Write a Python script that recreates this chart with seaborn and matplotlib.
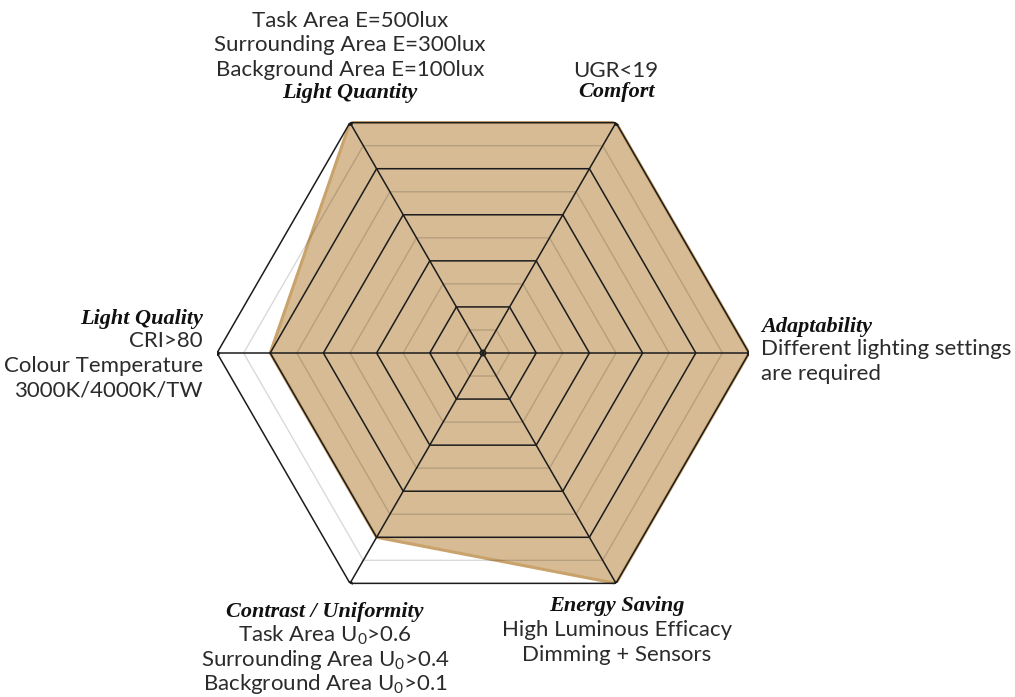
import numpy as np
import pandas as pd
import seaborn as sns
import matplotlib.pyplot as plt

# Lighting design criteria and their scores on a 0-1 scale
categories = ["Light Quantity", "Comfort", "Adaptability",
              "Energy Saving", "Contrast / Uniformity", "Light Quality"]
scores = [1.0, 1.0, 1.0, 1.0, 0.8, 0.8]
descriptions = [
    ["Task Area E=500lux", "Surrounding Area E=300lux", "Background Area E=100lux"],
    ["UGR<19"],
    ["Different lighting settings", "are required"],
    ["High Luminous Efficacy", "Dimming + Sensors"],
    ["Task Area U$_\\mathregular{0}$>0.6", "Surrounding Area U$_\\mathregular{0}$>0.4",
     "Background Area U$_\\mathregular{0}$>0.1"],
    ["CRI>80", "Colour Temperature", "3000K/4000K/TW"],
]
grid_levels = [0.1, 0.2, 0.3, 0.4, 0.5, 0.6, 0.7, 0.8, 0.9, 1.0]

sns.set_style("white")
plt.rcParams["font.family"] = ["Lato", "DejaVu Sans"]
plt.rcParams["mathtext.fontset"] = "custom"
plt.rcParams["mathtext.rm"] = "Lato"

FILL = "#d6bb94"
EDGE = "#c9a26c"
INK = "#1c1c1c"
TEXT = "#2b2b2b"

n = len(categories)
theta = np.deg2rad(120 - 60 * np.arange(n))
theta_closed = np.append(theta, theta[0])

fig = plt.figure(figsize=(10.15, 6.97), dpi=100)
ax = fig.add_axes([217 / 1015, 78 / 697, 532 / 1015, 532 / 697], projection="polar")
ax.set_facecolor("none")

# filled score polygon
df = pd.DataFrame({"theta": theta_closed, "score": scores + scores[:1]})
ax.fill(df["theta"], df["score"], color=FILL, zorder=1, linewidth=0)
sns.lineplot(data=df, x="theta", y="score", sort=False, estimator=None,
             color=EDGE, linewidth=2.2, ax=ax, zorder=2)

# hexagonal grid: major rings in black, minor rings in faint grey
for i, lvl in enumerate(grid_levels):
    major = (i % 2 == 1)
    ax.plot(theta_closed, [lvl] * (n + 1),
            color=INK if major else (0, 0, 0, 0.15),
            linewidth=1.1 if major else 1.0, zorder=3 if major else 2.5)

# spokes
for t in theta:
    ax.plot([t, t], [0, 1], color=INK, linewidth=1.1, zorder=3)

ax.scatter(theta, [1] * n, s=12, color=INK, zorder=5, linewidths=0)
ax.scatter([0], [0], s=16, facecolor="none", edgecolor=INK, linewidths=1.0, zorder=5)

ax.set_ylim(0, 1)
ax.set_xticks([])
ax.set_yticks([])
ax.set_xlabel("")
ax.set_ylabel("")
ax.grid(False)
ax.spines["polar"].set_visible(False)

title_font = dict(family="Liberation Serif", weight="bold", style="italic",
                  fontsize=16, color="#111111")
desc_font = dict(fontsize=16, color=TEXT)
LINE_STEP = 24.5

# title offset, first description baseline offset, alignment
placement = [
    ((0, 30), (0, 96), "center"),
    ((0, 31), (0, 46), "center"),
    ((12, 26), (12, -2), "left"),
    ((1, -23), (1, -53), "center"),
    ((-25, -29), (-25, -58), "center"),
    ((-14, 34), (-14, 6), "right"),
]

for t, name, lines, (toff, doff, ha) in zip(theta, categories, descriptions, placement):
    ax.annotate(name, xy=(t, 1), xytext=toff, textcoords="offset pixels",
                ha=ha, va="center", **title_font)
    for k, line in enumerate(lines):
        ax.annotate(line, xy=(t, 1), xytext=(doff[0], doff[1] - k * LINE_STEP),
                    textcoords="offset pixels", ha=ha, va="baseline", **desc_font)

fig.savefig("out.png", dpi=100, facecolor="white")
